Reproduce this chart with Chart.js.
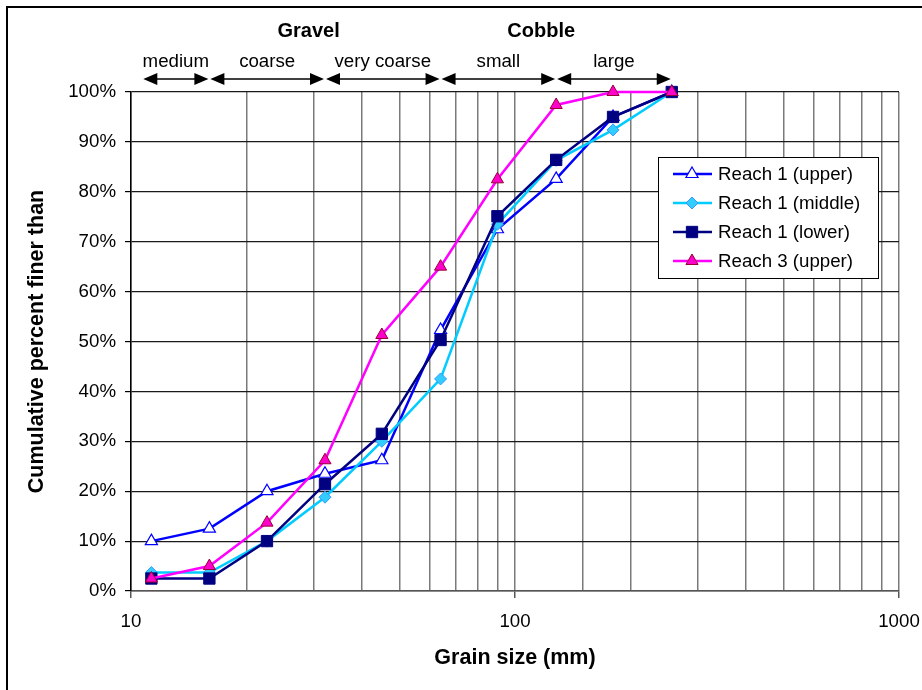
<!DOCTYPE html>
<html>
<head>
<meta charset="utf-8">
<script src="https://cdn.jsdelivr.net/npm/chart.js@4.4.0/dist/chart.umd.min.js"></script>
<style>
body { margin: 0; background: #fff; }
#wrap { width: 922px; height: 690px; }
</style>
</head>
<body>
<div id="wrap"><canvas id="chart" width="922" height="690"></canvas></div>
<script>
// grain size (mm) of each size class
var sizes = [11.3, 16, 22.6, 32, 45, 64, 90, 128, 180, 256];
// cumulative percent finer than
var reach1Upper = [10, 12.5, 20, 23.5, 26.2, 52.3, 72.5, 82.6, 95, 100];
var reach1Middle = [3.7, 3.7, 10, 18.8, 30, 42.5, 73.5, 86.3, 92.4, 100];
var reach1Lower = [2.5, 2.5, 10, 21.4, 31.5, 50.3, 75.1, 86.4, 95, 100];
var reach3Upper = [2.5, 5, 13.7, 26.2, 51.3, 65, 82.5, 97.4, 100, 100];
var seriesNames = ['Reach 1 (upper)', 'Reach 1 (middle)', 'Reach 1 (lower)', 'Reach 3 (upper)'];

// size classes above the plot
var classNames = ['medium', 'coarse', 'very coarse', 'small', 'large'];
var classLimits = [10.7, 16, 32, 64, 128, 256];
var groupNames = ['Gravel', 'Cobble'];
var groupCentres = [29, 117];

var xLabels = [10, 100, 1000];

var FONT = '"Liberation Sans", Arial, sans-serif';

function pts(vals) {
    var out = [];
    for (var i = 0; i < sizes.length; i++) {
        out.push({ x: sizes[i], y: vals[i] });
    }
    return out;
}

function isMajor(v) {
    return xLabels.indexOf(v) >= 0;
}

// white background + frame on the left and top
var frame = {
    id: 'frame',
    beforeDraw: function(chart) {
        var ctx = chart.ctx;
        ctx.save();
        ctx.fillStyle = '#fff';
        ctx.fillRect(0, 0, chart.width, chart.height);
        ctx.strokeStyle = '#000';
        ctx.lineWidth = 2;
        ctx.beginPath();
        ctx.moveTo(7, chart.height);
        ctx.lineTo(7, 7);
        ctx.lineTo(chart.width, 7);
        ctx.stroke();
        ctx.restore();
    }
};

function arrowHead(ctx, tipX, y, dir) {
    ctx.beginPath();
    ctx.moveTo(tipX, y);
    ctx.lineTo(tipX - dir * 14, y - 6);
    ctx.lineTo(tipX - dir * 14, y + 6);
    ctx.closePath();
    ctx.fill();
}

var sizeClasses = {
    id: 'sizeClasses',
    afterDraw: function(chart) {
        var ctx = chart.ctx;
        var xs = chart.scales.x;
        var top = chart.chartArea.top;
        var ay = top - 13;
        ctx.save();
        ctx.fillStyle = '#000';
        ctx.strokeStyle = '#000';
        ctx.lineWidth = 1.5;
        ctx.textAlign = 'center';
        ctx.textBaseline = 'middle';
        ctx.font = '18.7px ' + FONT;
        for (var i = 0; i < classNames.length; i++) {
            var x0 = xs.getPixelForValue(classLimits[i]) + 1;
            var x1 = xs.getPixelForValue(classLimits[i + 1]) - 1;
            ctx.beginPath();
            ctx.moveTo(x0 + 4, ay);
            ctx.lineTo(x1 - 4, ay);
            ctx.stroke();
            arrowHead(ctx, x0, ay, -1);
            arrowHead(ctx, x1, ay, 1);
            ctx.fillText(classNames[i], (x0 + x1) / 2, top - 30);
        }
        ctx.font = 'bold 20px ' + FONT;
        for (var j = 0; j < groupNames.length; j++) {
            ctx.fillText(groupNames[j], xs.getPixelForValue(groupCentres[j]), top - 61);
        }
        ctx.restore();
    }
};

// legend box inside the plot
var legendBox = {
    id: 'legendBox',
    afterDatasetsDraw: function(chart) {
        var ctx = chart.ctx;
        var area = chart.chartArea;
        var bx = area.right - 241, by = area.top + 65, bw = 220, bh = 121;
        ctx.save();
        ctx.fillStyle = '#fff';
        ctx.fillRect(bx, by, bw, bh);
        ctx.strokeStyle = '#000';
        ctx.lineWidth = 1;
        ctx.strokeRect(bx + 0.5, by + 0.5, bw, bh);
        ctx.font = '18.7px ' + FONT;
        ctx.textBaseline = 'middle';
        ctx.textAlign = 'left';
        chart.data.datasets.forEach(function(ds, i) {
            var y = by + 17 + i * 29;
            ctx.strokeStyle = ds.borderColor;
            ctx.lineWidth = ds.borderWidth;
            ctx.beginPath();
            ctx.moveTo(bx + 15, y);
            ctx.lineTo(bx + 54, y);
            ctx.stroke();
            ctx.fillStyle = ds.pointBackgroundColor;
            ctx.strokeStyle = ds.pointBorderColor;
            ctx.lineWidth = ds.pointBorderWidth;
            Chart.helpers.drawPoint(ctx, {
                pointStyle: ds.pointStyle,
                radius: ds.pointRadius,
                rotation: 0,
                borderWidth: ds.pointBorderWidth
            }, bx + 34, y);
            ctx.fillStyle = '#000';
            ctx.fillText(ds.label, bx + 60, y + 1);
        });
        ctx.restore();
    }
};

var ctx = document.getElementById('chart').getContext('2d');
var chart = new Chart(ctx, {
    type: 'line',
    data: {
        datasets: [{
            label: seriesNames[0],
            data: pts(reach1Upper),
            borderColor: '#0000FF',
            borderWidth: 2.5,
            pointStyle: 'triangle',
            pointRadius: 7,
            pointBackgroundColor: '#FFFFFF',
            pointBorderColor: '#0000FF',
            pointBorderWidth: 1.2,
            order: 3
        }, {
            label: seriesNames[1],
            data: pts(reach1Middle),
            borderColor: '#00CCFF',
            borderWidth: 2.5,
            pointStyle: 'rectRot',
            pointRadius: 6,
            pointBackgroundColor: '#33CCFF',
            pointBorderColor: '#3399FF',
            pointBorderWidth: 1,
            order: 2
        }, {
            label: seriesNames[2],
            data: pts(reach1Lower),
            borderColor: '#000080',
            borderWidth: 2.5,
            pointStyle: 'rect',
            pointRadius: 8,
            pointBackgroundColor: '#000080',
            pointBorderColor: '#000080',
            pointBorderWidth: 1,
            order: 1
        }, {
            label: seriesNames[3],
            data: pts(reach3Upper),
            borderColor: '#FF00FF',
            borderWidth: 2.5,
            pointStyle: 'triangle',
            pointRadius: 7,
            pointBackgroundColor: '#FF00CC',
            pointBorderColor: '#990033',
            pointBorderWidth: 1,
            order: 0
        }]
    },
    options: {
        responsive: false,
        animation: false,
        clip: false,
        layout: { padding: { top: 92, right: 23, left: 0, bottom: 0 } },
        plugins: {
            legend: { display: false },
            tooltip: { enabled: false }
        },
        elements: { line: { tension: 0 } },
        scales: {
            x: {
                type: 'logarithmic',
                min: 10,
                max: 1000,
                afterFit: function(s) {
                    s.height = 99;
                    s.paddingLeft = 0;
                    s.paddingRight = 0;
                },
                grid: {
                    color: '#7a7a7a',
                    lineWidth: 1.5,
                    tickLength: 7,
                    tickColor: function(c) {
                        return c.tick && isMajor(c.tick.value) ? '#555' : 'rgba(0,0,0,0)';
                    }
                },
                border: { color: '#555', width: 1.5 },
                ticks: {
                    autoSkip: false,
                    maxRotation: 0,
                    minRotation: 0,
                    padding: 13,
                    color: '#000',
                    font: { family: FONT, size: 18.7 },
                    callback: function(v) { return isMajor(v) ? String(v) : ''; }
                },
                title: {
                    display: true,
                    text: 'Grain size (mm)',
                    color: '#000',
                    font: { family: FONT, size: 21.5, weight: 'bold' },
                    padding: { top: 0, bottom: 19 }
                }
            },
            y: {
                min: 0,
                max: 100,
                afterFit: function(s) { s.width = 131; },
                grid: {
                    color: '#1a1a1a',
                    lineWidth: 1.2,
                    tickLength: 6,
                    tickColor: '#000'
                },
                border: { color: '#000', width: 1.5 },
                ticks: {
                    stepSize: 10,
                    padding: 9,
                    color: '#000',
                    font: { family: FONT, size: 18.7 },
                    callback: function(v) { return v + '%'; }
                },
                title: {
                    display: true,
                    text: 'Cumulative percent finer than',
                    color: '#000',
                    font: { family: FONT, size: 21.5, weight: 'bold' },
                    padding: { top: 24, bottom: 0 }
                }
            }
        }
    },
    plugins: [frame, sizeClasses, legendBox]
});
</script>
</body>
</html>
